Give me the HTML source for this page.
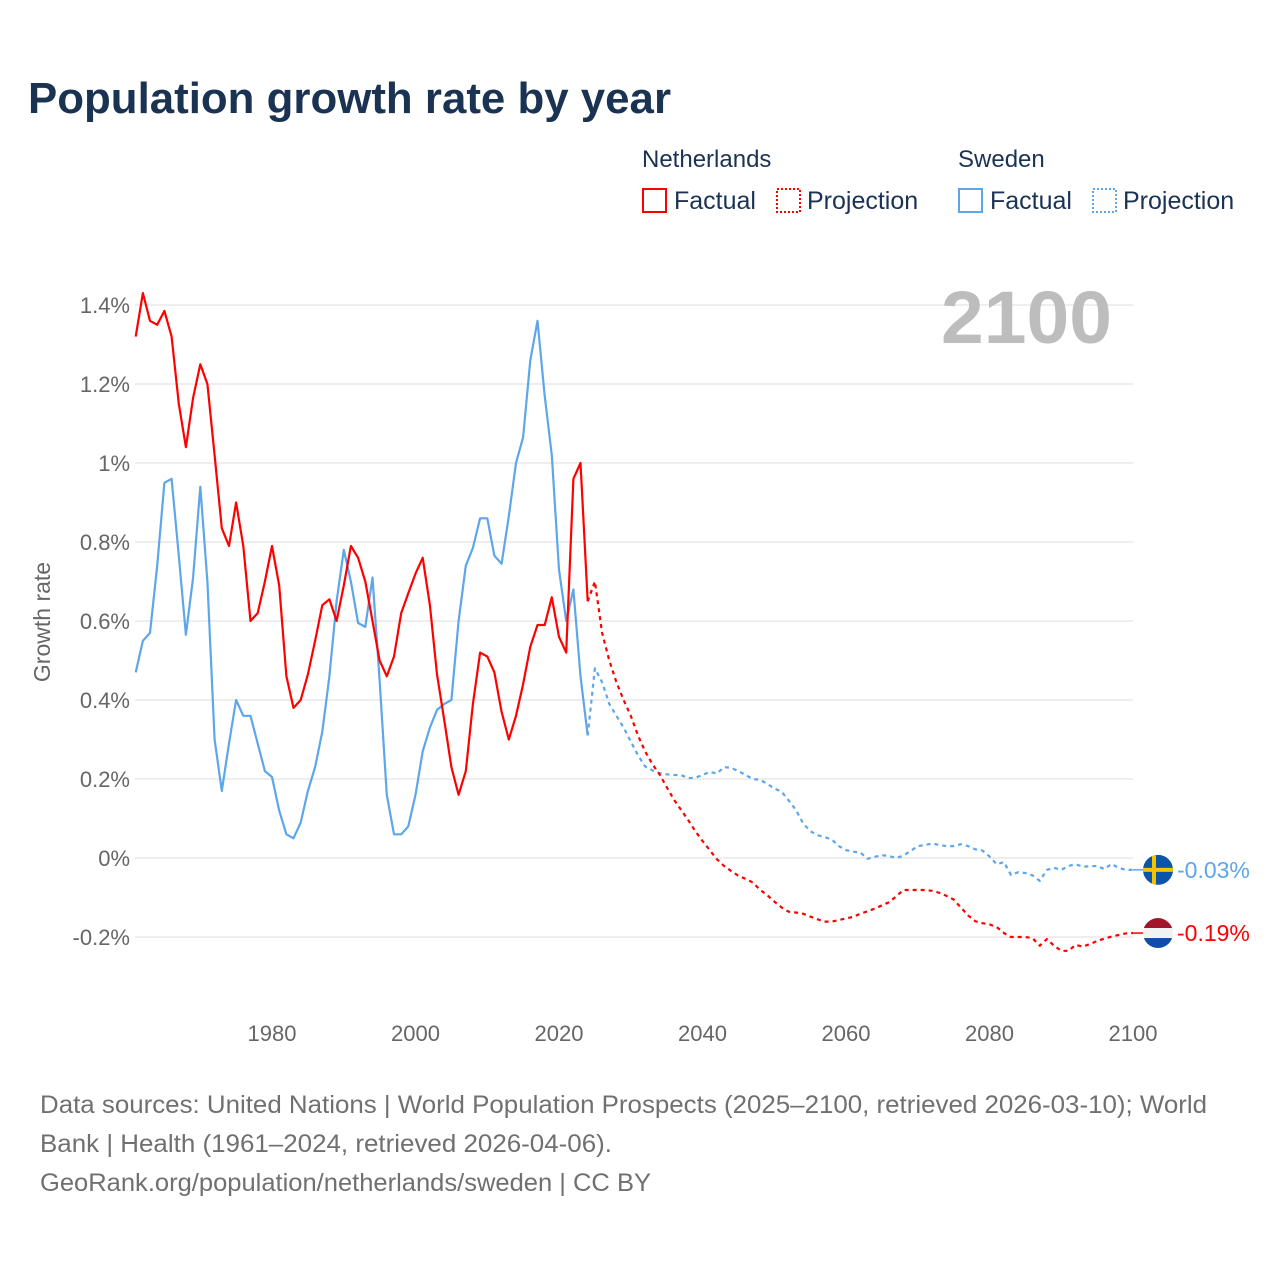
<!DOCTYPE html>
<html><head><meta charset="utf-8"><style>
body{margin:0;background:#fff;}
svg{display:block;font-family:"Liberation Sans",sans-serif;}
</style></head><body>
<svg id="chart" width="1280" height="1280" viewBox="0 0 1280 1280">
<rect width="1280" height="1280" fill="#fff"/>
<text x="28" y="113" font-size="44" font-weight="bold" fill="#1b3353" textLength="643" lengthAdjust="spacingAndGlyphs">Population growth rate by year</text>
<g>
<text x="642" y="167" font-size="24" fill="#1b3353">Netherlands</text>
<g><rect x="643" y="189" width="23" height="23" fill="none" stroke="#ff0000" stroke-width="2"/><text x="674" y="209" font-size="25" fill="#1b3353">Factual</text></g>
<g><rect x="777" y="189" width="23" height="23" fill="none" stroke="#ff0000" stroke-width="2" stroke-dasharray="2,2"/><text x="807" y="209" font-size="25" fill="#1b3353">Projection</text></g>
<text x="958" y="167" font-size="24" fill="#1b3353">Sweden</text>
<g><rect x="959" y="189" width="23" height="23" fill="none" stroke="#5ea6ea" stroke-width="2"/><text x="990" y="209" font-size="25" fill="#1b3353">Factual</text></g>
<g><rect x="1093" y="189" width="23" height="23" fill="none" stroke="#5ea6ea" stroke-width="2" stroke-dasharray="2,2"/><text x="1123" y="209" font-size="25" fill="#1b3353">Projection</text></g>
</g>
<g id="grid"></g>
<g id="yaxis"></g>
<g id="xaxis"></g>
<text x="0" y="0" transform="translate(50,622) rotate(-90)" text-anchor="middle" font-size="23" fill="#666">Growth rate</text>
<text x="941" y="343" font-size="74" font-weight="bold" fill="#bdbdbd" textLength="171" lengthAdjust="spacingAndGlyphs">2100</text>
<g id="series"></g>
<g id="ends"></g>
<g font-size="25" fill="#707070">
<text x="40" y="1113" textLength="1167" lengthAdjust="spacingAndGlyphs">Data sources: United Nations | World Population Prospects (2025–2100, retrieved 2026-03-10); World</text>
<text x="40" y="1152" textLength="572" lengthAdjust="spacingAndGlyphs">Bank | Health (1961–2024, retrieved 2026-04-06).</text>
<text x="40" y="1191" textLength="611" lengthAdjust="spacingAndGlyphs">GeoRank.org/population/netherlands/sweden | CC BY</text>
</g>
</svg>
<script>
const yTicks=[1.4,1.2,1.0,0.8,0.6,0.4,0.2,0,-0.2];
const yTickLabels=["1.4%","1.2%","1%","0.8%","0.6%","0.4%","0.2%","0%","-0.2%"];
const xTicks=[1980,2000,2020,2040,2060,2080,2100];
const factualStart=1961;
const nlFactual=[1.32,1.43,1.36,1.35,1.385,1.32,1.15,1.04,1.165,1.25,1.20,1.02,0.835,0.79,0.90,0.79,0.60,0.62,0.70,0.79,0.69,0.46,0.38,0.40,0.465,0.55,0.64,0.655,0.60,0.69,0.79,0.76,0.70,0.60,0.50,0.46,0.51,0.62,0.67,0.72,0.76,0.64,0.465,0.35,0.23,0.16,0.22,0.39,0.52,0.51,0.47,0.37,0.30,0.36,0.44,0.535,0.59,0.59,0.66,0.56,0.52,0.96,1.00,0.65];
const seFactual=[0.47,0.55,0.57,0.74,0.95,0.96,0.765,0.565,0.71,0.94,0.70,0.30,0.17,0.29,0.40,0.36,0.36,0.29,0.22,0.205,0.12,0.06,0.05,0.09,0.17,0.23,0.32,0.46,0.65,0.78,0.70,0.595,0.585,0.71,0.45,0.16,0.06,0.06,0.08,0.16,0.27,0.33,0.375,0.39,0.40,0.60,0.74,0.785,0.86,0.86,0.765,0.745,0.865,1.00,1.065,1.26,1.36,1.17,1.02,0.73,0.60,0.68,0.46,0.31];
const projStart=2025;
const nlProj=[0.70,0.57,0.50,0.445,0.40,0.36,0.31,0.27,0.238,0.212,0.18,0.148,0.122,0.096,0.068,0.043,0.02,-0.003,-0.02,-0.033,-0.045,-0.053,-0.062,-0.08,-0.094,-0.11,-0.125,-0.136,-0.138,-0.141,-0.148,-0.155,-0.161,-0.161,-0.157,-0.153,-0.149,-0.141,-0.135,-0.128,-0.12,-0.112,-0.097,-0.081,-0.081,-0.081,-0.081,-0.083,-0.088,-0.096,-0.105,-0.125,-0.145,-0.16,-0.165,-0.168,-0.175,-0.19,-0.2,-0.2,-0.2,-0.203,-0.222,-0.205,-0.222,-0.235,-0.235,-0.22,-0.224,-0.218,-0.21,-0.204,-0.199,-0.195,-0.191,-0.19];
const seProj=[0.48,0.445,0.39,0.36,0.33,0.295,0.26,0.232,0.222,0.215,0.212,0.21,0.21,0.202,0.203,0.21,0.218,0.214,0.23,0.228,0.22,0.21,0.2,0.198,0.188,0.176,0.168,0.146,0.122,0.088,0.068,0.058,0.053,0.047,0.03,0.02,0.016,0.014,-0.002,0.003,0.007,0.005,0.0,0.006,0.018,0.03,0.033,0.037,0.033,0.03,0.03,0.035,0.03,0.022,0.019,0.004,-0.016,-0.01,-0.043,-0.036,-0.038,-0.044,-0.058,-0.03,-0.025,-0.03,-0.02,-0.016,-0.022,-0.021,-0.02,-0.028,-0.015,-0.025,-0.03,-0.03];
const endLabels=["-0.03%","-0.19%"];

const NS="http://www.w3.org/2000/svg";
function X(yr){return 135.7+(yr-1961)*7.175;}
function Y(v){return 858-v*395;}
function mk(tag,attrs,parent){const e=document.createElementNS(NS,tag);for(const k in attrs)e.setAttribute(k,attrs[k]);parent.appendChild(e);return e;}
const grid=document.getElementById('grid'),ya=document.getElementById('yaxis'),xa=document.getElementById('xaxis'),ser=document.getElementById('series'),ends=document.getElementById('ends');
yTicks.forEach((t,i)=>{
  const l=mk('line',{x1:135,x2:1133,y1:Y(t),y2:Y(t),stroke:'#e8e8e8','stroke-width':1.5},grid);
  
  
  const tx=mk('text',{x:130,y:Y(t)+8,'text-anchor':'end','font-size':22,fill:'#666'},ya);
  tx.textContent=yTickLabels[i];
  
  
});
xTicks.forEach(t=>{
  const tx=mk('text',{x:X(t),y:1041,'text-anchor':'middle','font-size':22,fill:'#666'},xa);
  tx.textContent=String(t);
  
  
});
function pts(arr,start){return arr.map((v,i)=>X(start+i).toFixed(1)+','+Y(v).toFixed(1)).join(' ');}
function line(arr,start,color,dash,name){
  const p=mk('polyline',{points:pts(arr,start),fill:'none',stroke:color,'stroke-width':2.2,'stroke-linejoin':'round'},ser);
  if(dash)p.setAttribute('stroke-dasharray','4,4');
  
  
}
line(seFactual,factualStart,'#5ea6ea',false,'sweden-factual-line');
line(nlFactual,factualStart,'#ff0000',false,'netherlands-factual-line');
line([seFactual[seFactual.length-1]].concat(seProj),projStart-1,'#5ea6ea',true,'sweden-projection-line');
line([nlFactual[nlFactual.length-1]].concat(nlProj),projStart-1,'#ff0000',true,'netherlands-projection-line');
const seEnd=seProj[seProj.length-1],nlEnd=nlProj[nlProj.length-1];
const seY=Y(seEnd), nlY=Y(nlEnd);
mk('line',{x1:X(2100),y1:seY,x2:1145,y2:seY,stroke:'#5ea6ea','stroke-width':1.5},ends);
mk('line',{x1:X(2100),y1:nlY,x2:1145,y2:nlY,stroke:'#ff0000','stroke-width':1.5},ends);
const sf=mk('g',{},ends);


const cs=mk('clipPath',{id:'cs'},sf);mk('circle',{cx:1158,cy:seY,r:15},cs);
const sg=mk('g',{'clip-path':'url(#cs)'},sf);
mk('rect',{x:1143,y:seY-15,width:30,height:30,fill:'#0a55a8'},sg);
mk('rect',{x:1143,y:seY-2,width:30,height:4,fill:'#f5c400'},sg);
mk('rect',{x:1152,y:seY-15,width:4,height:30,fill:'#f5c400'},sg);
const nf=mk('g',{},ends);


const cp=mk('clipPath',{id:'cn'},nf);mk('circle',{cx:1158,cy:nlY,r:15},cp);
const ng=mk('g',{'clip-path':'url(#cn)'},nf);
mk('rect',{x:1143,y:nlY-15,width:30,height:10,fill:'#a2142a'},ng);
mk('rect',{x:1143,y:nlY-5,width:30,height:10,fill:'#f2f2f2'},ng);
mk('rect',{x:1143,y:nlY+5,width:30,height:10,fill:'#0c4ea8'},ng);
const t1=mk('text',{x:1177,y:seY+8,'font-size':23,fill:'#5ea6ea'},ends);
t1.textContent=endLabels[0];


const t2=mk('text',{x:1177,y:nlY+8,'font-size':23,fill:'#ff0000'},ends);
t2.textContent=endLabels[1];


</script>
</body></html>
